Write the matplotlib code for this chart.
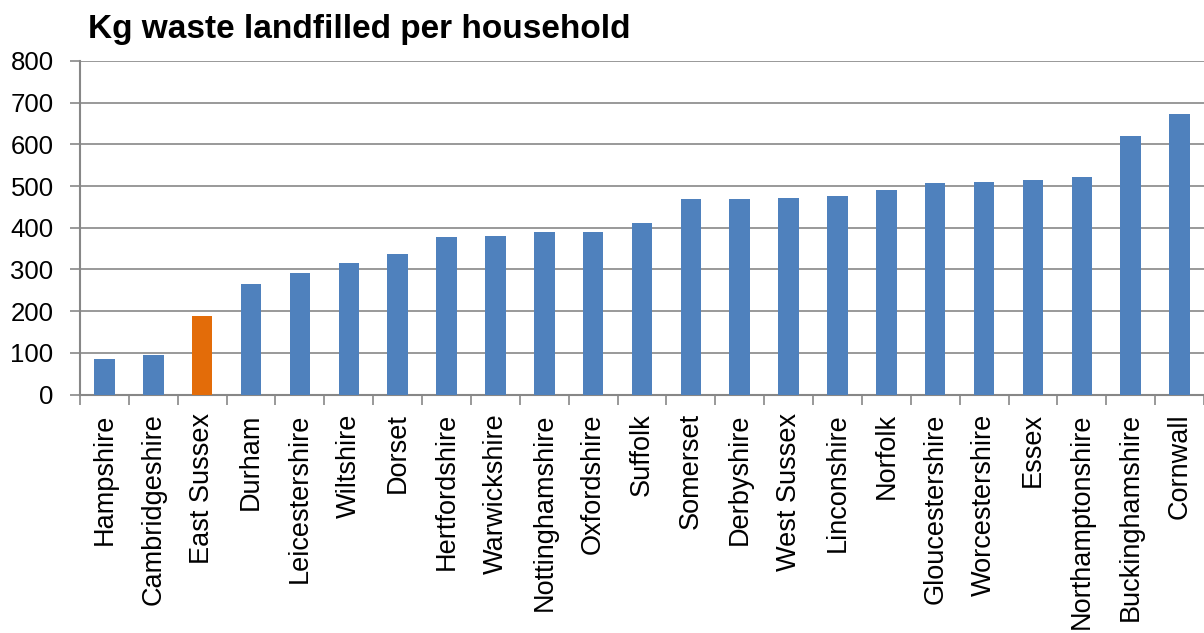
import numpy as np
import matplotlib.pyplot as plt

plt.rcParams['font.family'] = ['Liberation Sans', 'DejaVu Sans']

counties = ['Hampshire', 'Cambridgeshire', 'East Sussex', 'Durham', 'Leicestershire',
            'Wiltshire', 'Dorset', 'Hertfordshire', 'Warwickshire', 'Nottinghamshire',
            'Oxfordshire', 'Suffolk', 'Somerset', 'Derbyshire', 'West Sussex',
            'Linconshire', 'Norfolk', 'Gloucestershire', 'Worcestershire', 'Essex',
            'Northamptonshire', 'Buckinghamshire', 'Cornwall']
kg_landfilled = [84, 94, 188, 265, 291, 316, 338, 379, 381, 390,
                 391, 412, 468, 468, 471, 476, 491, 508, 510, 515,
                 522, 619, 672]
highlight = 'East Sussex'

blue = '#4F81BD'
orange = '#E36C09'
grey = '#878787'

fig = plt.figure(figsize=(12.04, 6.33), dpi=100)
ax = fig.add_axes([80/1204, 1-394.5/633, 1124/1204, 333.5/633])

x = np.arange(len(counties))
colors = [orange if c == highlight else blue for c in counties]
ax.bar(x, kg_landfilled, width=0.42, color=colors, zorder=3)

ax.set_xlim(-0.5, len(counties)-0.5)
ax.set_ylim(0, 800)
ax.set_yticks(np.arange(0, 801, 100))
ax.grid(axis='y', color=grey, linewidth=1.2, zorder=0)

# boundary ticks carry the marks, centre ticks carry the names
ax.set_xticks(np.arange(-0.5, len(counties), 1))
ax.set_xticklabels([])
ax.set_xticks(x, minor=True)
ax.set_xticklabels(counties, minor=True, rotation=90, fontsize=19.5)
ax.tick_params(axis='x', which='major', length=7, width=1.2, color=grey, direction='out')
ax.tick_params(axis='x', which='minor', length=0, pad=13.5)
ax.tick_params(axis='y', length=7, width=1.2, color=grey, pad=12, labelsize=18.5)

for s in ['top', 'right']:
    ax.spines[s].set_visible(False)
for s in ['left', 'bottom']:
    ax.spines[s].set_color(grey)
    ax.spines[s].set_linewidth(1.5)

fig.text(88/1204, 1-38/633, 'Kg waste landfilled per household',
         fontsize=24, fontweight='bold', va='baseline', ha='left')

fig.savefig('out.png', dpi=100)
